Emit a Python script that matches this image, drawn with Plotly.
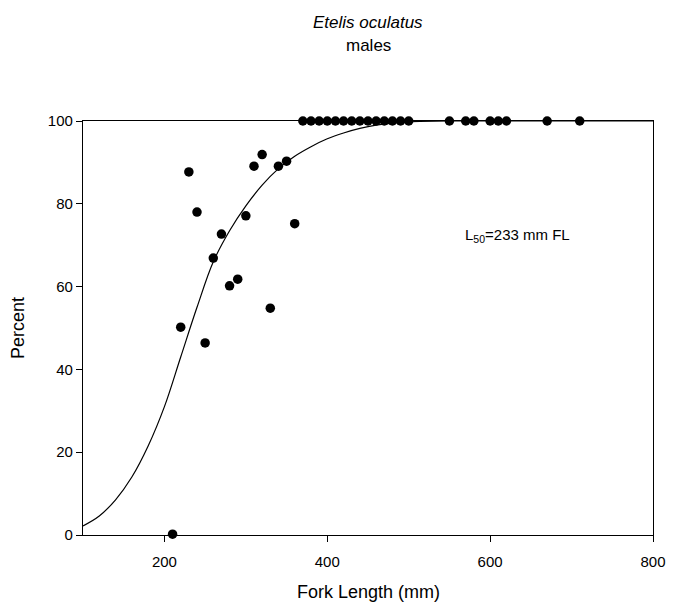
import plotly.graph_objects as go

# Observed maturity data (fork length mm, percent mature)
fork_length = [210, 220, 230, 240, 250, 260, 270, 280, 290, 300, 310, 320, 330, 340, 350, 360,
               370, 380, 390, 400, 410, 420, 430, 440, 450, 460, 470, 480, 490, 500,
               550, 570, 580, 600, 610, 620, 670, 710]
percent = [0.2, 50.2, 87.7, 78.0, 46.4, 66.9, 72.7, 60.2, 61.8, 77.1, 89.1, 91.9, 54.8, 89.1, 90.3, 75.2,
           100, 100, 100, 100, 100, 100, 100, 100, 100, 100, 100, 100, 100, 100,
           100, 100, 100, 100, 100, 100, 100, 100]

# Fitted curve
curve_x = [100, 120, 140, 160, 180, 200, 220, 240, 260, 280, 300, 320, 340, 360, 380, 400,
           420, 440, 460, 480, 500, 550, 600, 650, 700, 800]
curve_y = [2.2, 4.6, 8.5, 14.0, 21.5, 31.0, 43.0, 55.0, 66.0, 73.5, 79.5, 84.5, 88.5, 91.5, 93.8, 95.7,
           97.1, 98.2, 99.0, 99.5, 99.8, 100, 100, 100, 100, 100]

x_ticks = [200, 400, 600, 800]
y_ticks = [0, 20, 40, 60, 80, 100]

FONT = "Liberation Sans, Arial, sans-serif"

fig = go.Figure()
fig.add_trace(go.Scatter(x=curve_x, y=curve_y, mode="lines", line=dict(color="black", width=1.2, shape="spline"),
                         hoverinfo="skip", showlegend=False))
fig.add_trace(go.Scatter(x=fork_length, y=percent, mode="markers",
                         marker=dict(color="black", size=9.5, line=dict(width=0)), showlegend=False,
                         cliponaxis=False))

fig.update_layout(
    width=678, height=607,
    margin=dict(l=83, r=19, t=121, b=72),
    paper_bgcolor="white", plot_bgcolor="white",
    font=dict(family=FONT, color="black", size=15),
    showlegend=False,
    xaxis=dict(range=[100, 800], tickvals=x_ticks, showgrid=False, zeroline=False,
               showline=True, linecolor="black", linewidth=1.2, mirror=True,
               ticks="outside", ticklen=6, tickcolor="black", tickwidth=1,
               tickfont=dict(size=15), ticklabelstandoff=7),
    yaxis=dict(range=[0, 100], tickvals=y_ticks, showgrid=False, zeroline=False,
               showline=True, linecolor="black", linewidth=1.2, mirror=True,
               ticks="outside", ticklen=6, tickcolor="black", tickwidth=1,
               tickfont=dict(size=15)),
)

# Titles
fig.add_annotation(x=0.5, y=1, xref="paper", yref="paper", yshift=99, yanchor="middle",
                   text="<i>Etelis oculatus</i>", showarrow=False, font=dict(size=17))
fig.add_annotation(x=0.5, y=1, xref="paper", yref="paper", yshift=76, yanchor="middle",
                   text="males", showarrow=False, font=dict(size=17))
# Axis titles
fig.add_annotation(x=0.5, y=0, xref="paper", yref="paper", yshift=-57, yanchor="middle",
                   text="Fork Length (mm)", showarrow=False, font=dict(size=18))
fig.add_annotation(x=0, y=0.5, xref="paper", yref="paper", xshift=-65, xanchor="center",
                   text="Percent", showarrow=False, textangle=-90, font=dict(size=18))
# L50 label
fig.add_annotation(x=633, y=72.4, xref="x", yref="y",
                   text="L<sub>50</sub>=233 mm FL", showarrow=False, font=dict(size=15))

fig.write_html("out.html")
